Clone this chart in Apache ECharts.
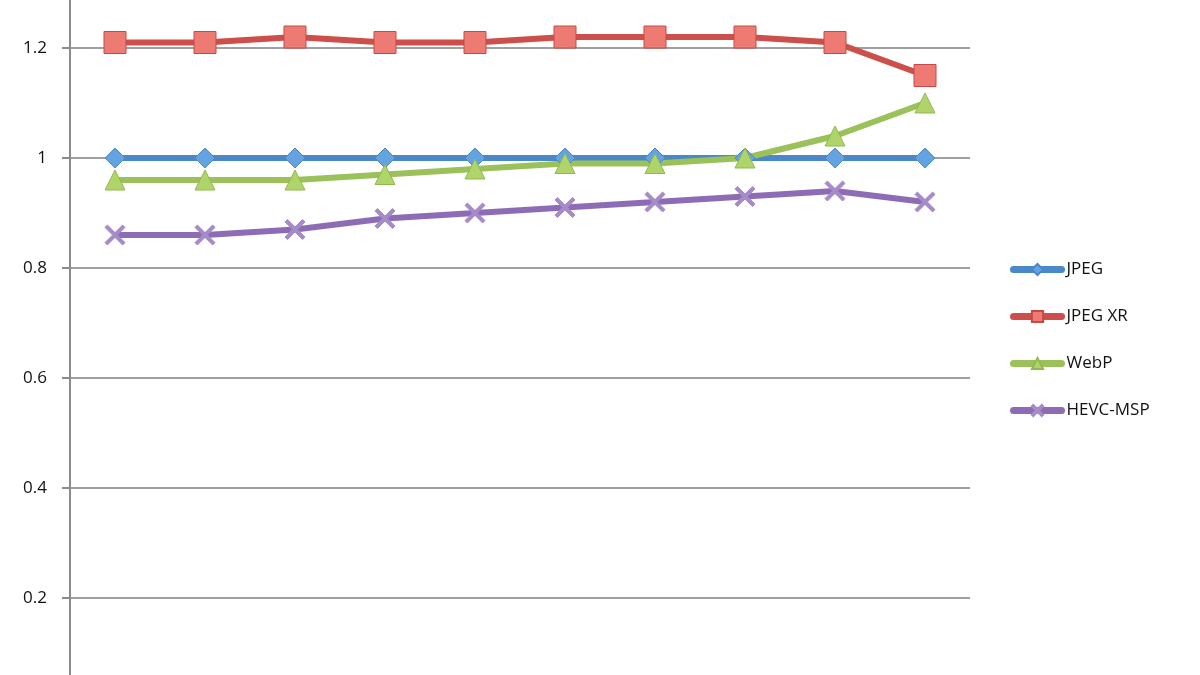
<!DOCTYPE html>
<html>
<head>
<meta charset="utf-8">
<script src="https://cdn.jsdelivr.net/npm/echarts@6/dist/echarts.min.js"></script>
<style>
  html, body { margin: 0; padding: 0; background: #fff; overflow: hidden; width: 1200px; height: 675px; }
  /* the chart is cropped at top and bottom, so the canvas is taller and shifted up */
  #main-canvas { position: absolute; left: 0; top: -80px; width: 1200px; height: 805px; }
</style>
</head>
<body>
<div id="main-canvas"></div>
<script>
// data
var categories = ['1', '2', '3', '4', '5', '6', '7', '8', '9', '10'];
var jpeg = [1, 1, 1, 1, 1, 1, 1, 1, 1, 1];
var jpegXr = [1.21, 1.21, 1.22, 1.21, 1.21, 1.22, 1.22, 1.22, 1.21, 1.15];
var webp = [0.96, 0.96, 0.96, 0.97, 0.98, 0.99, 0.99, 1.0, 1.04, 1.1];
var hevcMsp = [0.86, 0.86, 0.87, 0.89, 0.90, 0.91, 0.92, 0.93, 0.94, 0.92];
var seriesNames = ['JPEG', 'JPEG XR', 'WebP', 'HEVC-MSP'];

var myChart = echarts.init(document.getElementById('main-canvas'));

var crossPath = 'path://M0,1.2 L1.2,0 L5,3.8 L8.8,0 L10,1.2 L6.2,5 L10,8.8 L8.8,10 L5,6.2 L1.2,10 L0,8.8 L3.8,5 Z';

function makeSeries(name, data, lineColor, fillColor, borderColor, symbol, size)
{
    return {
        name: name,
        type: 'line',
        data: data,
        symbol: symbol,
        symbolSize: size,
        showAllSymbol: true,
        lineStyle: { color: lineColor, width: 6 },
        itemStyle: { color: fillColor, borderColor: borderColor, borderWidth: 1 },
        emphasis: { disabled: true }
    };
}

var option = {
    animation: false,
    backgroundColor: '#ffffff',
    textStyle: { fontFamily: '"Open Sans", sans-serif' },
    grid: {
        left: 70,
        right: 230,
        top: 18,
        bottom: 17
    },
    legend: {
        orient: 'vertical',
        left: 1010,
        top: 341,
        padding: 0,
        itemWidth: 48,
        itemHeight: 14,
        itemGap: 30,
        data: seriesNames,
        lineStyle: { width: 7, cap: 'round' },
        textStyle: { fontSize: 17, color: '#111111', fontWeight: 500, fontFamily: '"Open Sans", sans-serif' }
    },
    xAxis: {
        type: 'category',
        data: categories,
        boundaryGap: true,
        axisLine: { show: false },
        axisTick: { show: false },
        axisLabel: { show: false },
        splitLine: { show: false }
    },
    yAxis: {
        type: 'value',
        min: 0,
        max: 1.4,
        interval: 0.2,
        axisLine: { show: true, lineStyle: { color: '#8c8c8c', width: 2 } },
        axisTick: { show: true, inside: false, length: 8, lineStyle: { color: '#8c8c8c', width: 2 } },
        axisLabel: { fontSize: 17, color: '#111111', fontWeight: 500, margin: 23 },
        splitLine: { show: true, lineStyle: { color: '#a0a0a0', width: 2 } }
    },
    series: [
        makeSeries('JPEG', jpeg, '#4a88c8', '#62a3e0', '#4a88c8', 'diamond', 20),
        makeSeries('JPEG XR', jpegXr, '#cc4f4b', '#ee7a74', '#c94a45', 'rect', 22),
        makeSeries('WebP', webp, '#9bc15a', '#aed46a', '#93b852', 'triangle', 20),
        makeSeries('HEVC-MSP', hevcMsp, '#8e6cb5', '#a58bc8', '#a58bc8', crossPath, 20)
    ]
};

myChart.setOption(option);
</script>
</body>
</html>
